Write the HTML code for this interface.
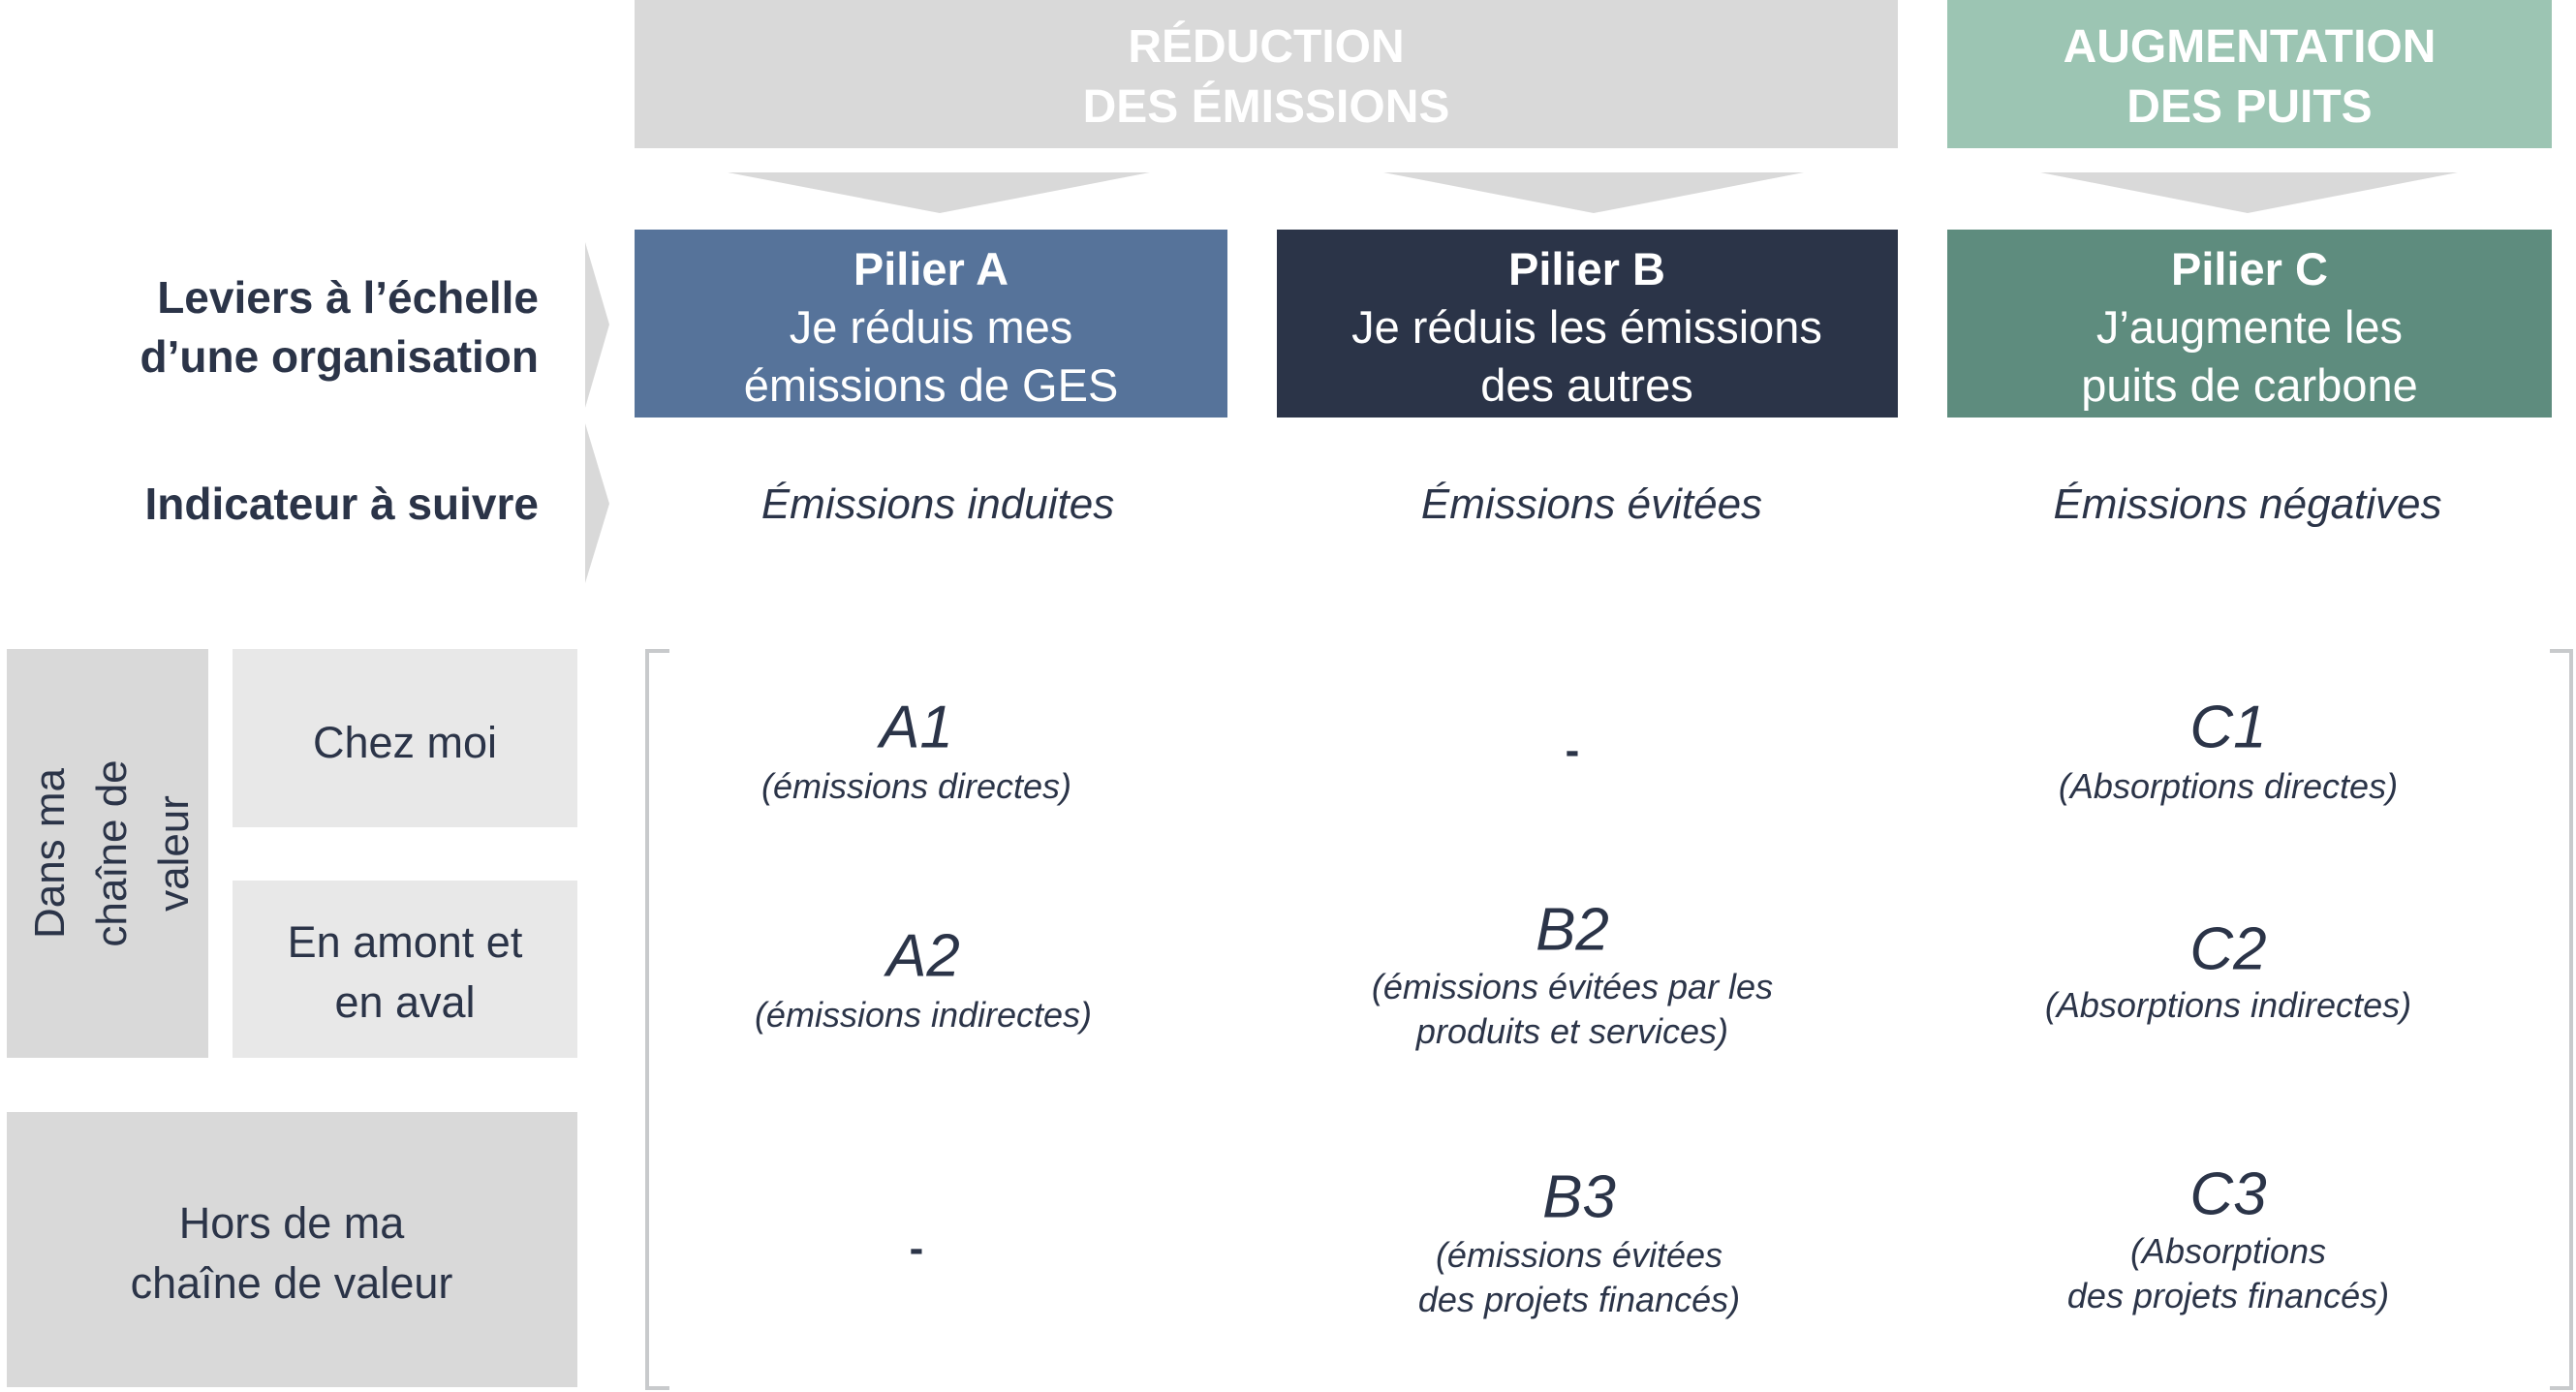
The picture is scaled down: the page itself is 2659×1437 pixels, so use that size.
<!DOCTYPE html>
<html><head><meta charset="utf-8"><style>
html,body{margin:0;padding:0;background:#fff;}
body{width:2659px;height:1437px;position:relative;overflow:hidden;font-family:"Liberation Sans",sans-serif;color:#2b3448;}
.r{position:absolute;}
.t{position:absolute;transform:translate(-50%,-50%);white-space:nowrap;text-align:center;}
.w{color:#fff;}
.b{font-weight:bold;}
.i{font-style:italic;}
.big{font-size:62px;}
.sub{font-size:36px;line-height:46px;}
.mid{font-size:45px;line-height:62px;}
</style></head><body>
<div class="r" style="left:655px;top:0;width:1304px;height:153px;background:#d9d9d9"></div>
<div class="r" style="left:2010px;top:0;width:624px;height:153px;background:#9cc5b3"></div>
<div class="t w b" style="left:1307px;top:80px;font-size:48px;line-height:62px;">RÉDUCTION<br>DES ÉMISSIONS</div>
<div class="t w b" style="left:2322px;top:80px;font-size:48px;line-height:62px;">AUGMENTATION<br>DES PUITS</div>
<svg class="r" style="left:0;top:0" width="2659" height="1437">
<polygon points="751,178 1187,178 970,220" fill="#d9d9d9"/>
<polygon points="1428,178 1862,178 1645,220" fill="#d9d9d9"/>
<polygon points="2106,178 2537,178 2320,220" fill="#d9d9d9"/>
<polygon points="604,250 629,335 604,421" fill="#d9d9d9"/>
<polygon points="604,437 629,520 604,602" fill="#d9d9d9"/>
<path d="M691,672 L668,672 L668,1433 L691,1433" fill="none" stroke="#c8cacc" stroke-width="4"/>
<path d="M2632,672 L2654,672 L2654,1433 L2632,1433" fill="none" stroke="#c8cacc" stroke-width="4"/>
</svg>
<div class="r" style="left:655px;top:237px;width:612px;height:194px;background:#56739a"></div>
<div class="r" style="left:1318px;top:237px;width:641px;height:194px;background:#2b3448"></div>
<div class="r" style="left:2010px;top:237px;width:624px;height:194px;background:#5e8c7e"></div>
<div class="t w" style="left:961px;top:338px;font-size:47px;line-height:60px;"><b>Pilier A</b><br>Je réduis mes<br>émissions de GES</div>
<div class="t w" style="left:1638px;top:338px;font-size:47px;line-height:60px;"><b>Pilier B</b><br>Je réduis les émissions<br>des autres</div>
<div class="t w" style="left:2322px;top:338px;font-size:47px;line-height:60px;"><b>Pilier C</b><br>J’augmente les<br>puits de carbone</div>
<div class="r b" style="right:2103px;top:277px;font-size:46px;line-height:61px;text-align:right;white-space:nowrap;">Leviers à l’échelle<br>d’une organisation</div>
<div class="r b" style="right:2103px;top:490px;font-size:46px;line-height:61px;text-align:right;white-space:nowrap;">Indicateur à suivre</div>
<div class="t i" style="left:968px;top:521px;font-size:44px;">Émissions induites</div>
<div class="t i" style="left:1643px;top:521px;font-size:44px;">Émissions évitées</div>
<div class="t i" style="left:2320px;top:521px;font-size:44px;">Émissions négatives</div>
<div class="r" style="left:7px;top:670px;width:208px;height:422px;background:#d9d9d9"></div>
<div class="r" style="left:240px;top:670px;width:356px;height:184px;background:#e8e8e8"></div>
<div class="r" style="left:240px;top:909px;width:356px;height:183px;background:#e8e8e8"></div>
<div class="r" style="left:7px;top:1148px;width:589px;height:284px;background:#d9d9d9"></div>
<div class="t" style="left:116px;top:881px;font-size:44px;line-height:64px;transform:translate(-50%,-50%) rotate(-90deg);">Dans ma<br>chaîne de<br>valeur</div>
<div class="t mid" style="left:418px;top:767px;">Chez moi</div>
<div class="t mid" style="left:418px;top:1004px;">En amont et<br>en aval</div>
<div class="t mid" style="left:301px;top:1294px;">Hors de ma<br>chaîne de valeur</div>
<div class="t i big" style="left:946px;top:751px;">A1</div>
<div class="t i sub" style="left:946px;top:812px;">(émissions directes)</div>
<div class="t i big" style="left:953px;top:987px;">A2</div>
<div class="t i sub" style="left:953px;top:1048px;">(émissions indirectes)</div>
<div class="t b" style="left:946px;top:1289px;font-size:44px;">-</div>
<div class="t b" style="left:1623px;top:775px;font-size:44px;">-</div>
<div class="t i big" style="left:1623px;top:960px;">B2</div>
<div class="t i sub" style="left:1623px;top:1042px;">(émissions évitées par les<br>produits et services)</div>
<div class="t i big" style="left:1630px;top:1236px;">B3</div>
<div class="t i sub" style="left:1630px;top:1319px;">(émissions évitées<br>des projets financés)</div>
<div class="t i big" style="left:2300px;top:751px;">C1</div>
<div class="t i sub" style="left:2300px;top:812px;">(Absorptions directes)</div>
<div class="t i big" style="left:2300px;top:980px;">C2</div>
<div class="t i sub" style="left:2300px;top:1038px;">(Absorptions indirectes)</div>
<div class="t i big" style="left:2300px;top:1233px;">C3</div>
<div class="t i sub" style="left:2300px;top:1315px;">(Absorptions<br>des projets financés)</div>
</body></html>
